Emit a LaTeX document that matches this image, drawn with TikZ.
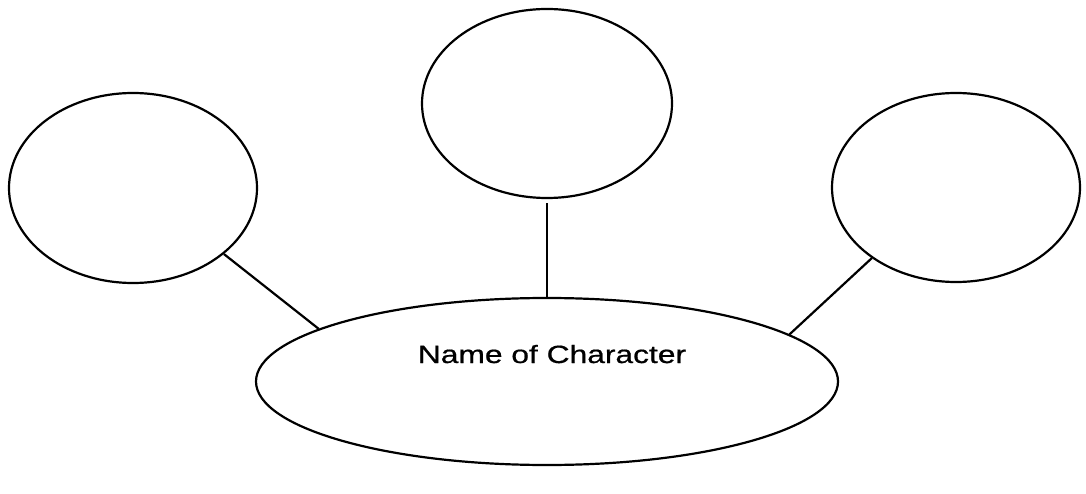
\documentclass[tikz,border=0pt]{standalone}
\usepackage{fontspec}
\setmainfont{Liberation Sans}
\newfontfamily\labelfont[FakeBold=0.6]{Liberation Sans}
\usetikzlibrary{shapes.geometric}
\tikzset{
  bubble/.style={draw=black, line width=2.2pt, ellipse, inner sep=0pt},
  link/.style={draw=black, line width=2.2pt},
}
\begin{document}
\begin{tikzpicture}[x=1pt,y=-1pt]
\useasboundingbox (0,0) rectangle (1086,494);
\node[bubble, minimum width=248pt, minimum height=190pt] (L) at (133,188) {};
\node[bubble, minimum width=250pt, minimum height=189pt] (T) at (547,103.5) {};
\node[bubble, minimum width=248pt, minimum height=189pt] (R) at (956,187.5) {};
\node[bubble, minimum width=582pt, minimum height=167pt] (B) at (547,381.5) {};
\node[anchor=base, inner sep=0pt, font=\labelfont\fontsize{25}{30}\selectfont] (N) at (552,363) {\scalebox{1.27}[1]{Name of Character}};
\draw[link] (L.-36.6) -- (B.167.4);
\draw[link] ([yshift=-4pt]T.south) -- (B.north);
\draw[link] (R.220) -- (B.11.6);
\end{tikzpicture}
\end{document}
